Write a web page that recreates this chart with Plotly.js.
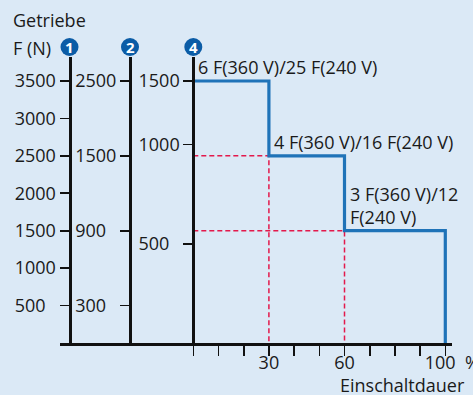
<!DOCTYPE html>
<html>
<head>
<meta charset="utf-8">
<script src="https://cdn.plot.ly/plotly-3.0.1.min.js"></script>
<style>html,body{margin:0;padding:0;background:#dbe9f6;}</style>
</head>
<body>
<div id="chart" style="width:473px;height:395px;"></div>
<script>
// ---- data ----
const durations = [0, 30, 60, 100];          // Einschaltdauer (%) boundaries
const forces = [3500, 2500, 1500];           // F (N), Getriebe 1 scale
const stepLabels = ['6 F(360 V)/25 F(240 V)', '4 F(360 V)/16 F(240 V)', '3 F(360 V)/12<br>F(240 V)'];
const axis1Ticks = [500, 1000, 1500, 2000, 2500, 3000, 3500];
const axis1Labels = ['500', '1000', '1500', '2000', '2500', '3000', '3500'];
const axis2Pos = [3500, 2500, 1500, 500];
const axis2Labels = ['2500', '1500', '900', '300'];
const axis4Pos = [3500, 2650, 1320];
const axis4Labels = ['1500', '1000', '500'];
const xTicks = [0, 10, 20, 30, 40, 50, 60, 70, 80, 90, 100];
const xLabels = ['', '', '', '30', '', '', '60', '', '', '', '100'];
const gearNames = ['1', '2', '4'];

// ---- build traces ----
const FS = '\u2007';
const pad = s => s.length < 4 ? s + FS.repeat(4 - s.length) : s;

const stepX = [], stepY = [];
for (let i = 0; i < forces.length; i++) {
  stepX.push(durations[i], durations[i + 1]);
  stepY.push(forces[i], forces[i]);
}
stepX.push(durations[durations.length - 1]); stepY.push(0);

const guideX = [], guideY = [];
for (let i = 1; i < forces.length; i++) {
  guideX.push(durations[0], durations[i], durations[i], null);
  guideY.push(forces[i], forces[i], 0, null);
}

const font = {family: '"Open Sans", sans-serif', size: 18, color: '#1a1a1a'};
const red = '#e3194b', blue = '#1f73b8', badge = '#0b5ca6';

const traces = [
  {x: guideX, y: guideY, mode: 'lines', line: {color: red, width: 1.5, dash: '5px,3px'}, hoverinfo: 'skip', showlegend: false},
  {x: stepX, y: stepY, mode: 'lines', line: {color: blue, width: 3.2}, hoverinfo: 'skip', showlegend: false}
];

const L = 60, R = 21, T = 57, B = 52, W = 473, H = 395;
const pw = W - L - R, ph = H - B - T;
const axisPx = [69.5, 130, 193.3];
const axisFrac = axisPx.map(p => (p - L) / pw);
const pxPerPct = 2.52;
const x0px = 193.3;
const xr = [(L - x0px) / pxPerPct, (W - R - x0px) / pxPerPct];
const yTop = ph / 0.07486;

const yBase = {range: [0, yTop], showgrid: false, zeroline: false, showline: true, linewidth: 3, linecolor: '#111',
  ticks: 'outside', ticklen: 9, tickwidth: 1.6, tickcolor: '#111', tickmode: 'array', anchor: 'free', tickfont: font,
  fixedrange: true};

const annotations = [];
for (let i = 0; i < forces.length; i++) {
  annotations.push({x: durations[i], y: forces[i], xref: 'x', yref: 'y', text: stepLabels[i], showarrow: false,
    xanchor: 'left', yanchor: 'bottom', align: 'left', xshift: 3, yshift: 0, font: font});
}
annotations.push({x: (11 - L) / pw, y: 1 + (T - 20) / ph, xref: 'paper', yref: 'paper', text: 'Getriebe', showarrow: false, xanchor: 'left', yanchor: 'middle', font: font});
annotations.push({x: (11 - L) / pw, y: 1 + (T - 48) / ph, xref: 'paper', yref: 'paper', text: 'F (N)', showarrow: false, xanchor: 'left', yanchor: 'middle', font: font});
annotations.push({x: (467 - L) / pw, y: -(385 - (H - B)) / ph, xref: 'paper', yref: 'paper', text: 'Einschaltdauer', showarrow: false, xanchor: 'right', yanchor: 'middle', font: font});
annotations.push({x: (463 - L) / pw, y: -(362 - (H - B)) / ph, xref: 'paper', yref: 'paper', text: '%', showarrow: false, xanchor: 'left', yanchor: 'middle', font: font});

const shapes = [];
gearNames.forEach((g, i) => {
  shapes.push({type: 'circle', xref: 'paper', yref: 'paper', xsizemode: 'pixel', ysizemode: 'pixel',
    xanchor: axisFrac[i], yanchor: 1, x0: -9, x1: 9, y0: 1, y1: 19, fillcolor: badge, line: {width: 0}, layer: 'above'});
  annotations.push({x: axisFrac[i], y: 1, xref: 'paper', yref: 'paper', yshift: 10, text: '<b>' + g + '</b>', showarrow: false,
    xanchor: 'center', yanchor: 'middle', font: {family: '"Open Sans", sans-serif', size: 15, color: '#fff'}});
});

const layout = {
  width: W, height: H,
  margin: {l: L, r: R, t: T, b: B, pad: 0},
  paper_bgcolor: '#dbe9f6', plot_bgcolor: '#dbe9f6',
  font: font,
  showlegend: false,
  xaxis: {range: xr, showgrid: false, zeroline: false, showline: true, linewidth: 3, linecolor: '#111',
    ticks: 'outside', ticklen: 10, tickwidth: 1.6, tickcolor: '#111', tickmode: 'array', tickvals: xTicks,
    ticktext: xLabels.map(s => s.length === 3 ? s + FS : s),
    tickfont: font, ticklabelstandoff: -9, anchor: 'y', fixedrange: true},
  yaxis: Object.assign({}, yBase, {position: axisFrac[0], tickvals: axis1Ticks, ticktext: axis1Labels.map(pad)}),
  yaxis2: Object.assign({}, yBase, {position: axisFrac[1], overlaying: 'y', tickvals: axis2Pos, ticktext: axis2Labels.map(pad)}),
  yaxis3: Object.assign({}, yBase, {position: axisFrac[2], overlaying: 'y', tickvals: axis4Pos, ticktext: axis4Labels.map(pad)}),
  annotations: annotations,
  shapes: shapes
};

// dummy traces to activate overlay axes
traces.push({x: [null], y: [null], yaxis: 'y2', mode: 'lines', showlegend: false, hoverinfo: 'skip'});
traces.push({x: [null], y: [null], yaxis: 'y3', mode: 'lines', showlegend: false, hoverinfo: 'skip'});

Plotly.newPlot('chart', traces, layout, {staticPlot: true, displayModeBar: false});
</script>
</body>
</html>
